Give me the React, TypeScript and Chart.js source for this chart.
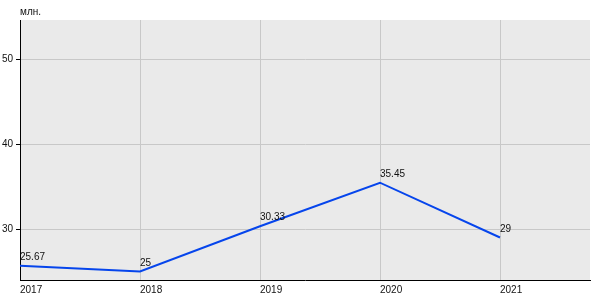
import React, { useEffect, useRef } from "react";
import { Chart, registerables } from "chart.js";

Chart.register(...registerables);

const years = [2017, 2018, 2019, 2020, 2021];
const values = [25.67, 25, 30.33, 35.45, 29];
const valueLabels = ["25.67", "25", "30.33", "35.45", "29"];
const yTicks = [30, 40, 50];
const unitLabel = "млн.";

const FONT = "Arial, 'Liberation Sans', sans-serif";

export default function App() {
  const ref = useRef<HTMLCanvasElement | null>(null);

  useEffect(() => {
    const canvas = ref.current;
    if (!canvas) return;

    const bgPlugin = {
      id: "bg",
      beforeDraw(chart: any) {
        const { ctx, chartArea } = chart;
        ctx.save();
        ctx.fillStyle = "#eaeaea";
        ctx.fillRect(chartArea.left, chartArea.top, chartArea.right - chartArea.left, chartArea.bottom - chartArea.top);
        ctx.restore();
      },
    };

    const labelPlugin = {
      id: "labels",
      afterDatasetsDraw(chart: any) {
        const { ctx, chartArea } = chart;
        const meta = chart.getDatasetMeta(0);
        ctx.save();
        ctx.font = `10px ${FONT}`;
        ctx.fillStyle = "#111";
        ctx.textAlign = "left";
        ctx.textBaseline = "alphabetic";
        meta.data.forEach((pt: any, i: number) => {
          ctx.fillText(valueLabels[i], pt.x, pt.y - 6);
        });
        ctx.fillText(unitLabel, chartArea.left, 15);
        ctx.restore();
      },
    };

    const chart = new Chart(canvas, {
      type: "line",
      data: {
        datasets: [
          {
            data: years.map((y, i) => ({ x: y, y: values[i] })),
            borderColor: "#0645ec",
            borderWidth: 2,
            pointRadius: 0,
            tension: 0,
            fill: false,
          },
        ],
      },
      options: {
        animation: false,
        responsive: false,
        maintainAspectRatio: false,
        layout: { padding: { top: 20, right: 10, left: 0, bottom: 0 } },
        plugins: {
          legend: { display: false },
          tooltip: { enabled: false },
        },
        scales: {
          x: {
            type: "linear",
            min: 2017,
            max: 2021.75,
            afterFit: (s: any) => {
              s.height = 20;
            },
            afterBuildTicks: (s: any) => {
              s.ticks = years.map((v) => ({ value: v }));
            },
            grid: {
              color: "#c8c8c8",
              drawTicks: false,
              lineWidth: 1,
            },
            border: { color: "#000", width: 1 },
            ticks: {
              align: "start",
              autoSkip: false,
              maxRotation: 0,
              padding: 4,
              color: "#111",
              font: { family: FONT, size: 10 },
              callback: (v: any) => String(v),
            },
          },
          y: {
            type: "linear",
            min: 24,
            max: 54.6,
            afterFit: (s: any) => {
              s.width = 20;
            },
            afterBuildTicks: (s: any) => {
              s.ticks = yTicks.map((v) => ({ value: v }));
            },
            grid: {
              color: "#c8c8c8",
              tickColor: "#000",
              tickLength: 4,
              lineWidth: 1,
            },
            border: { color: "#000", width: 1 },
            ticks: {
              padding: 3,
              color: "#111",
              font: { family: FONT, size: 10 },
              callback: (v: any) => String(v),
            },
          },
        },
      },
      plugins: [bgPlugin, labelPlugin],
    } as any);

    return () => chart.destroy();
  }, []);

  return (
    <div style={{ position: "fixed", left: 0, top: 0, width: 600, height: 300, background: "#fff" }}>
      <canvas ref={ref} width={600} height={300} style={{ width: 600, height: 300, display: "block" }} />
    </div>
  );
}
